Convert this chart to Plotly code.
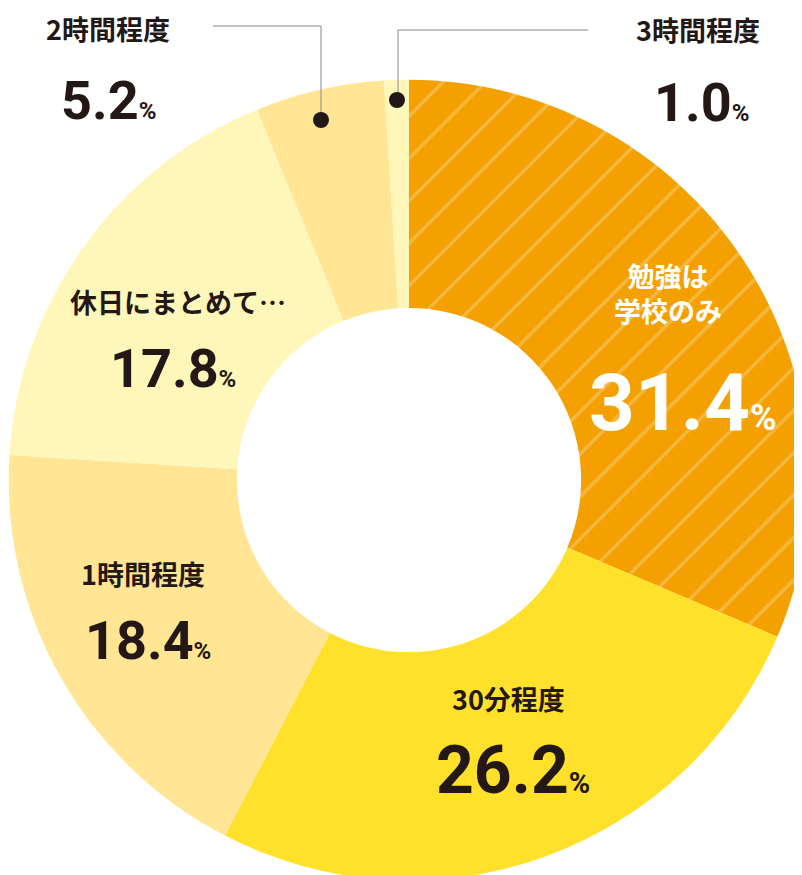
import plotly.graph_objects as go

W, H = 802, 875

labels = ["勉強は学校のみ", "30分程度", "1時間程度", "休日にまとめて…", "2時間程度", "3時間程度"]
values = [31.4, 26.2, 18.4, 17.8, 5.2, 1.0]
colors = ["#F3A000", "#FFE02B", "#FFE594", "#FFF7BA", "#FFE594", "#FFF7BA"]
patterns = ["/", "", "", "", "", ""]

DARK = "#231815"
JP = "Noto Sans CJK JP"
NUM = "Roboto"


def px(x, y):
    return x / W, 1 - y / H


def pct(v, size):
    return (f"<span style='font-size:{size}px'><b>{v}</b></span>"
            f"<span style='font-size:{int(size*0.45)}px'><b>%</b></span>")


fig = go.Figure(go.Pie(
    labels=labels, values=values, sort=False, direction="clockwise", rotation=0,
    hole=0.43, textinfo="none", hoverinfo="label+percent",
    marker=dict(colors=colors, line=dict(color="white", width=0),
                pattern=dict(shape=patterns, fgcolor="#F6B73F", bgcolor=colors,
                             size=30, solidity=0.12)),
    domain=dict(x=[0, 1], y=[0.003, 0.918]),
    showlegend=False,
))

# label positions in pixels: (name, value, name_xy, value_xy, name size, value size, colour)
items = [
    ("勉強は<br>学校のみ", values[0], (660, 285), (675, 395), 27, 80, "white"),
    ("30分程度", values[1], (500, 690), (505, 762), 27, 66, DARK),
    ("1時間程度", values[2], (135, 565), (140, 632), 27, 54, DARK),
    ("休日にまとめて…", values[3], (170, 293), (165, 360), 27, 54, DARK),
    ("2時間程度", values[4], (100, 20), (100, 92), 27, 54, DARK),
    ("3時間程度", values[5], (690, 22), (693, 95), 27, 54, DARK),
]

ann = []
for name, v, nxy, vxy, ns, vs, col in items:
    x, y = px(*nxy)
    ann.append(dict(x=x, y=y, xref="paper", yref="paper", showarrow=False,
                    xanchor="center", yanchor="middle",
                    text=f"<b>{name}</b>", font=dict(family=JP, size=ns, color=col)))
    x, y = px(*vxy)
    ann.append(dict(x=x, y=y, xref="paper", yref="paper", showarrow=False,
                    xanchor="center", yanchor="middle",
                    text=pct(v, vs), font=dict(family=NUM, color=col)))

shapes = []
for pts, dot in [([(205, 18), (313, 18), (313, 108)], (313, 112)),
                 ([(580, 22), (390, 22), (390, 88)], (389, 92))]:
    path = "M " + " L ".join(f"{px(a, b)[0]},{px(a, b)[1]}" for a, b in pts)
    shapes.append(dict(type="path", path=path, xref="paper", yref="paper",
                       line=dict(color="#888888", width=1)))
    dx, dy = px(*dot)
    r = 8
    shapes.append(dict(type="circle", xref="paper", yref="paper",
                       x0=dx - r / W, x1=dx + r / W, y0=dy - r / H, y1=dy + r / H,
                       fillcolor=DARK, line=dict(width=0)))

fig.update_layout(width=W, height=H, margin=dict(l=0, r=0, t=0, b=0),
                  paper_bgcolor="white", annotations=ann, shapes=shapes)
fig.write_html("out.html")
